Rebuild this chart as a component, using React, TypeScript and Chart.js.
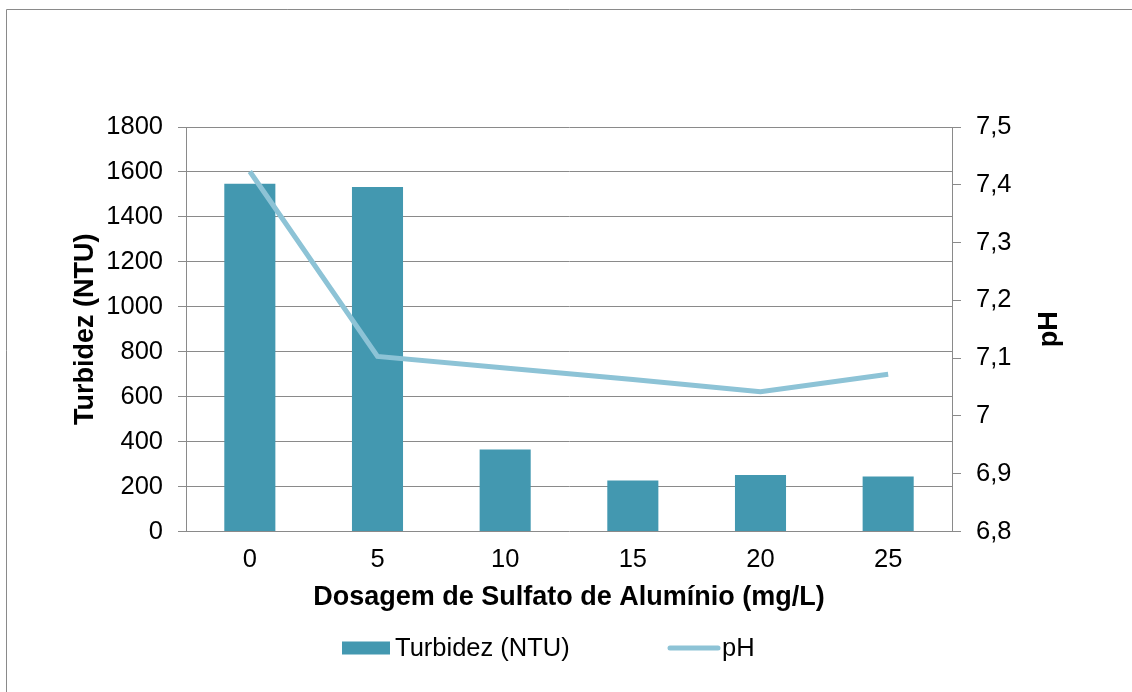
import React, { useEffect, useRef } from "react";
import { Chart, registerables } from "chart.js";

Chart.register(...registerables);

const categories = ["0", "5", "10", "15", "20", "25"];
const turbidez = [1548, 1533, 365, 227, 251, 245];
const ph = [7.423, 7.103, 7.083, 7.063, 7.042, 7.072];

const turbLabel = "Turbidez (NTU)";
const phLabel = "pH";
const xTitle = "Dosagem de Sulfato de Alumínio (mg/L)";
const yTitle = "Turbidez (NTU)";
const y1Title = "pH";

const FONT = "'Liberation Sans', Arial, sans-serif";
const GRID = "#8a8a8a";
const BAR = "#4398B0";
const LINE = "#8DC3D6";

const W = 1132;
const H = 692;

const overlay = {
  id: "overlay",
  afterDraw(chart: any) {
    const ctx = chart.ctx as CanvasRenderingContext2D;
    const a = chart.chartArea;
    ctx.save();
    // frame
    ctx.strokeStyle = "#8a8a8a";
    ctx.lineWidth = 1;
    ctx.beginPath();
    ctx.moveTo(6.5, H);
    ctx.lineTo(6.5, 9.5);
    ctx.lineTo(W, 9.5);
    ctx.stroke();

    ctx.fillStyle = "#000";
    ctx.textAlign = "center";
    ctx.textBaseline = "middle";
    ctx.font = `bold 27px ${FONT}`;
    const cy = (a.top + a.bottom) / 2;
    // left title
    ctx.save();
    ctx.translate(86, cy);
    ctx.rotate(-Math.PI / 2);
    ctx.fillText(yTitle, 0, 0);
    ctx.restore();
    // right title
    ctx.save();
    ctx.translate(1050, cy);
    ctx.rotate(-Math.PI / 2);
    ctx.fillText(y1Title, 0, 0);
    ctx.restore();
    // x title
    ctx.fillText(xTitle, (a.left + a.right) / 2, 598);

    // legend
    const ds = chart.data.datasets;
    const bar = ds.find((d: any) => d.type !== "line");
    const line = ds.find((d: any) => d.type === "line");
    const ly = 648;
    ctx.font = `25.5px ${FONT}`;
    ctx.textAlign = "left";
    ctx.fillStyle = bar.backgroundColor;
    ctx.fillRect(342, ly - 6.5, 48, 13);
    ctx.fillStyle = "#000";
    ctx.fillText(bar.label, 395, ly + 1);
    ctx.strokeStyle = line.borderColor;
    ctx.lineWidth = 5;
    ctx.lineCap = "round";
    ctx.beginPath();
    ctx.moveTo(670, ly);
    ctx.lineTo(718, ly);
    ctx.stroke();
    ctx.fillStyle = "#000";
    ctx.fillText(line.label, 722, ly + 1);
    ctx.restore();
  },
};

export default function App() {
  const ref = useRef<HTMLCanvasElement | null>(null);
  useEffect(() => {
    if (!ref.current) return;
    const chart = new Chart(ref.current, {
      type: "bar",
      data: {
        labels: categories,
        datasets: [
          {
            type: "bar",
            label: turbLabel,
            data: turbidez,
            backgroundColor: BAR,
            borderWidth: 0,
            barPercentage: 0.4,
            categoryPercentage: 1,
            yAxisID: "y",
            order: 2,
          } as any,
          {
            type: "line",
            label: phLabel,
            data: ph,
            borderColor: LINE,
            backgroundColor: LINE,
            borderWidth: 5,
            pointRadius: 0,
            tension: 0,
            yAxisID: "y1",
            order: 1,
          } as any,
        ],
      },
      options: {
        responsive: false,
        animation: false,
        devicePixelRatio: 1,
        layout: { padding: { top: 127, left: 0, right: 0, bottom: 0 } },
        plugins: {
          legend: { display: false },
          tooltip: { enabled: false },
          title: { display: false },
        },
        scales: {
          x: {
            grid: { display: false, drawTicks: false, tickLength: 0 },
            border: { display: false },
            ticks: {
              color: "#000",
              font: { family: FONT, size: 25.5 },
              padding: 13,
            },
            afterFit: (s: any) => {
              s.height = 160.5;
            },
          },
          y: {
            position: "left",
            min: 0,
            max: 1800,
            grid: { color: GRID, lineWidth: 1, tickLength: 8, drawTicks: true },
            border: { display: true, color: GRID, width: 1 },
            ticks: {
              stepSize: 200,
              color: "#000",
              font: { family: FONT, size: 25.5 },
              padding: 15,
              callback: (v: any) => String(Math.round(Number(v))),
            },
            afterFit: (s: any) => {
              s.width = 186;
            },
          },
          y1: {
            position: "right",
            min: 6.8,
            max: 7.5,
            grid: { drawOnChartArea: false, color: GRID, tickLength: 9, drawTicks: true },
            border: { display: true, color: GRID, width: 1 },
            ticks: {
              stepSize: 0.1,
              color: "#000",
              font: { family: FONT, size: 25.5 },
              padding: 15,
              callback: (v: any) => String(Number(Number(v).toFixed(1))).replace(".", ","),
            },
            afterFit: (s: any) => {
              s.width = 180;
            },
          },
        },
      },
      plugins: [overlay],
    });
    return () => chart.destroy();
  }, []);
  return (
    <div style={{ position: "absolute", left: 0, top: 0, width: W, height: H, background: "#fff" }}>
      <canvas ref={ref} width={W} height={H} style={{ display: "block" }} />
    </div>
  );
}
